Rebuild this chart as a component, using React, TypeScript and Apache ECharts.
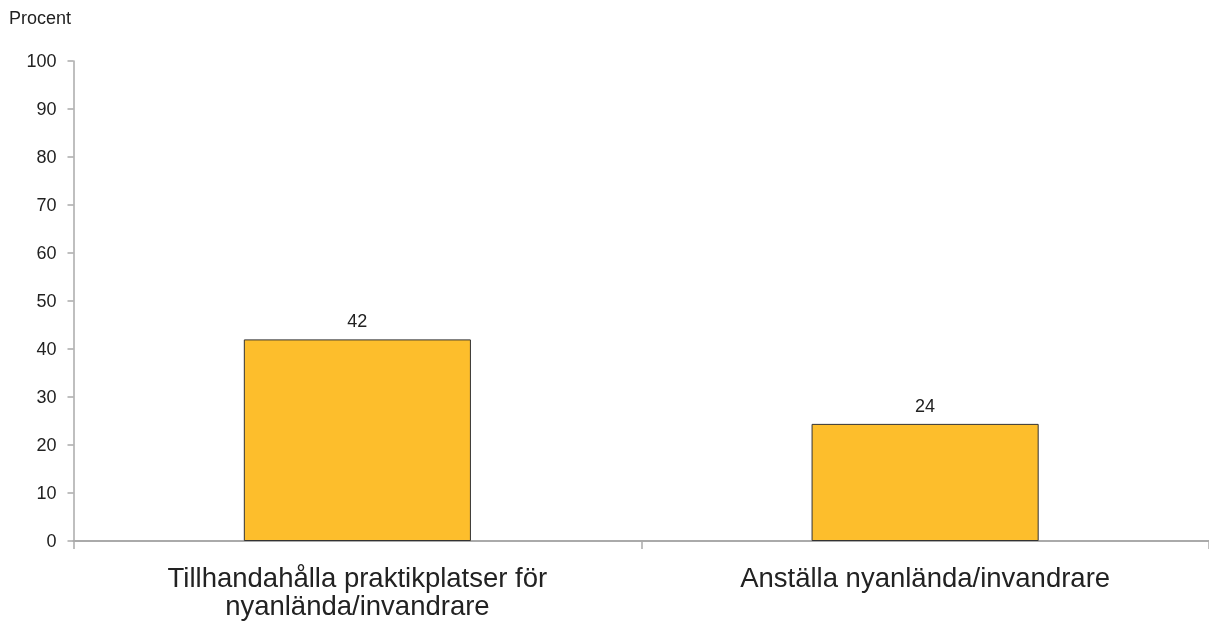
import React, { useEffect, useRef } from "react";
import * as echarts from "echarts";

const categories = ["Tillhandahålla praktikplatser för\nnyanlända/invandrare", "Anställa nyanlända/invandrare"];
const values = [42, 24.4];
const yTicks = { min: 0, max: 100, interval: 10 };
const yTitle = "Procent";

export default function App() {
  const ref = useRef<HTMLDivElement>(null);
  useEffect(() => {
    const chart = echarts.init(ref.current!, null, { renderer: "svg" });
    const font = "'Liberation Sans', Arial, sans-serif";
    chart.setOption({
      animation: false,
      textStyle: { fontFamily: font },
      graphic: [
        { type: "text", left: 9, top: 9, style: { text: yTitle, fontSize: 18, fill: "#222", fontFamily: font } },
      ],
      grid: { left: 73.5, width: 1136, top: 61, bottom: 80 },
      xAxis: {
        type: "category",
        data: categories,
        axisLine: { lineStyle: { color: "#aaa", width: 2 } },
        axisTick: { show: true, length: 8, lineStyle: { color: "#aaa", width: 1.5 } },
        axisLabel: { fontSize: 27.5, color: "#222", lineHeight: 28, margin: 22, fontFamily: font, interval: 0 },
      },
      yAxis: {
        type: "value",
        min: yTicks.min,
        max: yTicks.max,
        interval: yTicks.interval,
        splitLine: { show: false },
        axisLine: { show: true, lineStyle: { color: "#aaa", width: 1.5 } },
        axisTick: { show: true, length: 6, lineStyle: { color: "#aaa", width: 1.5 } },
        axisLabel: { fontSize: 18, color: "#222", margin: 17, fontFamily: font },
      },
      series: [
        {
          type: "bar",
          data: values,
          barWidth: "40%",
          itemStyle: { color: "#FDBE2C", borderColor: "#333", borderWidth: 1 },
          label: {
            show: true,
            position: "top",
            distance: 9,
            fontSize: 18,
            color: "#222",
            fontFamily: font,
            formatter: (p: any) => String(Math.round(p.value)),
          },
        },
      ],
    });
    return () => chart.dispose();
  }, []);
  return <div ref={ref} style={{ position: "fixed", left: 0, top: 0, width: 1209, height: 621 }} />;
}
